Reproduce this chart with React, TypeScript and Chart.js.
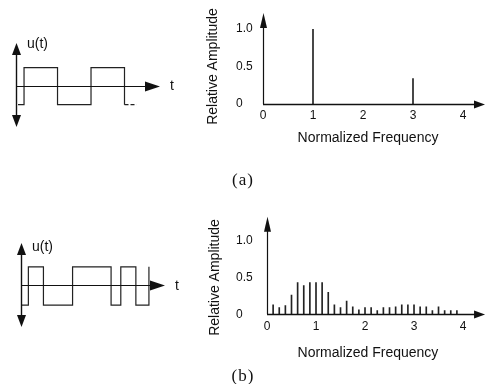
import React, { useEffect, useRef } from 'react';
import { Chart, registerables } from 'chart.js';

Chart.register(...registerables);

const FONT = '"Liberation Sans", Arial, Helvetica, sans-serif';
const SERIF = '"Liberation Serif", "Times New Roman", serif';
const INK = '#111111';

// ---- Panel (a): square wave (transition times, level after transition)
const waveATimes = [0.06, 0.24, 1.24, 2.24, 3.24, 3.6];
const waveALevels = [-1, 1, -1, 1, -1, -1];
// ---- Panel (b): pulse-width modulated wave
const waveBTimes = [0.02, 0.22, 0.67, 1.54, 2.69, 2.98, 3.43, 3.82];
const waveBLevels = [-1, 1, -1, 1, -1, 1, -1, 1];

// ---- Panel (a) spectrum
const specAFreqs = [1, 3];
const specAAmps = [1.0, 0.34];

// ---- Panel (b) spectrum (harmonics every 1/8)
const specBFreqs = [
  0.125, 0.25, 0.375, 0.5, 0.625, 0.75, 0.875, 1, 1.125, 1.25, 1.375, 1.5, 1.625, 1.75, 1.875, 2,
  2.125, 2.25, 2.375, 2.5, 2.625, 2.75, 2.875, 3, 3.125, 3.25, 3.375, 3.5, 3.625, 3.75, 3.875,
];
const specBAmps = [
  0.13, 0.09, 0.12, 0.26, 0.43, 0.39, 0.43, 0.43, 0.43, 0.3, 0.13, 0.09, 0.18, 0.1, 0.06, 0.09,
  0.09, 0.05, 0.09, 0.09, 0.1, 0.13, 0.13, 0.13, 0.1, 0.1, 0.05, 0.1, 0.05, 0.05, 0.05,
];

const freqTicks = [0, 1, 2, 3, 4];
const ampTicks = [0, 0.5, 1];
const ampTickLabels = ['0', '0.5', '1.0'];

function tri(ctx: CanvasRenderingContext2D, pts: number[][]) {
  ctx.beginPath();
  ctx.moveTo(pts[0][0], pts[0][1]);
  for (let i = 1; i < pts.length; i++) ctx.lineTo(pts[i][0], pts[i][1]);
  ctx.closePath();
  ctx.fill();
}

const crisp = (v: number) => Math.round(v - 0.5) + 0.5;

const arrowAxes = {
  id: 'arrowAxes',
  afterDatasetsDraw(chart: any, _a: any, o: any) {
    const { ctx } = chart;
    const xs = chart.scales.x;
    const ys = chart.scales.y;
    const oy = crisp(ys.getPixelForValue(0));
    const ax = crisp(xs.getPixelForValue(0));
    const xStart = xs.getPixelForValue(o.xFrom);
    const xEnd = xs.getPixelForValue(o.xTo);
    const yBot = ys.getPixelForValue(o.yFrom);
    const yTop = ys.getPixelForValue(o.yTo);
    const [xl, xw] = o.xHead;
    const [yl, yw] = o.yHead;
    ctx.save();
    ctx.strokeStyle = INK;
    ctx.fillStyle = INK;
    ctx.lineWidth = o.xLineWidth || 1;
    // x axis
    ctx.beginPath();
    ctx.moveTo(xStart, oy);
    ctx.lineTo(xEnd - xl + 1, oy);
    ctx.stroke();
    tri(ctx, [[xEnd, oy], [xEnd - xl, oy - xw], [xEnd - xl, oy + xw]]);
    // y axis
    ctx.lineWidth = o.yLineWidth || 1;
    ctx.beginPath();
    ctx.moveTo(ax, o.arrowDown ? yBot - yl + 1 : yBot);
    ctx.lineTo(ax, yTop + yl - 1);
    ctx.stroke();
    tri(ctx, [[ax, yTop], [ax - yw, yTop + yl], [ax + yw, yTop + yl]]);
    if (o.arrowDown) tri(ctx, [[ax, yBot], [ax - yw, yBot - yl], [ax + yw, yBot - yl]]);
    ctx.restore();
  },
  afterDraw(chart: any, _a: any, o: any) {
    const { ctx, chartArea } = chart;
    const xs = chart.scales.x;
    const ys = chart.scales.y;
    ctx.save();
    ctx.fillStyle = INK;
    ctx.font = `14px ${FONT}`;
    if (o.yTitle) {
      ctx.translate(chartArea.left + o.yTitleDx, (chartArea.top + chartArea.bottom) / 2);
      ctx.rotate(-Math.PI / 2);
      ctx.textAlign = 'center';
      ctx.textBaseline = 'middle';
      ctx.fillText(o.yTitle, 0, 0);
      ctx.setTransform(1, 0, 0, 1, 0, 0);
    }
    if (o.uLabel) {
      ctx.textAlign = 'left';
      ctx.textBaseline = 'middle';
      ctx.fillText(o.uLabel, xs.getPixelForValue(0) + 11, ys.getPixelForValue(o.yTo) + o.uDy);
    }
    if (o.tLabel) {
      ctx.textAlign = 'center';
      ctx.textBaseline = 'middle';
      ctx.fillText(o.tLabel, xs.getPixelForValue(o.xTo) + 12, ys.getPixelForValue(0));
    }
    ctx.restore();
  },
};

function waveConfig(times: number[], levels: number[], p: any) {
  const n = times.length;
  return {
    type: 'line',
    data: {
      datasets: [
        {
          data: times.map((t, i) => ({ x: t, y: levels[i] })),
          stepped: 'before',
          borderColor: '#222222',
          borderWidth: 1.2,
          pointRadius: 0,
          fill: false,
          segment: {
            borderDash: (c: any) => (p.dashLast && c.p1DataIndex === n - 1 ? [4, 2] : undefined),
          },
        },
      ],
    },
    options: {
      animation: false,
      responsive: false,
      events: [],
      layout: { padding: p.pad },
      plugins: {
        legend: { display: false },
        tooltip: { enabled: false },
        arrowAxes: {
          xFrom: 0,
          xTo: p.xMax,
          yFrom: p.yMin,
          yTo: p.yMax,
          arrowDown: true,
          xHead: [15, 5],
          yHead: [12, 4.5],
          xLineWidth: 1,
          yLineWidth: 1.4,
          uLabel: 'u(t)',
          uDy: p.uDy,
          tLabel: 't',
        },
      },
      scales: {
        x: { type: 'linear', display: false, min: 0, max: p.xMax },
        y: { type: 'linear', display: false, min: p.yMin, max: p.yMax },
      },
    },
    plugins: [arrowAxes],
  };
}

function spectrumConfig(freqs: number[], amps: number[], p: any) {
  return {
    type: 'bar',
    data: {
      datasets: [
        {
          data: freqs.map((f, i) => ({ x: f, y: amps[i] })),
          backgroundColor: '#222222',
          borderWidth: 0,
          barThickness: 1,
          grouped: false,
        },
      ],
    },
    options: {
      animation: false,
      responsive: false,
      events: [],
      layout: { padding: p.pad },
      plugins: {
        legend: { display: false },
        tooltip: { enabled: false },
        arrowAxes: {
          xFrom: 0,
          xTo: p.xTip,
          yFrom: 0,
          yTo: p.yTip,
          xHead: [11, 4],
          yHead: [15, 3.5],
          xLineWidth: 1.3,
          yLineWidth: 1.2,
          yTitle: 'Relative Amplitude',
          yTitleDx: p.yTitleDx,
        },
      },
      scales: {
        x: {
          type: 'linear',
          offset: false,
          min: 0,
          max: p.xMax,
          grid: { display: false, drawTicks: false },
          border: { display: false },
          afterBuildTicks: (s: any) => {
            s.ticks = freqTicks.map((v) => ({ value: v }));
          },
          ticks: {
            padding: p.tickPad,
            color: INK,
            font: { family: FONT, size: 12 },
            maxRotation: 0,
            autoSkip: false,
            callback: (_v: any, i: number) => String(freqTicks[i]),
          },
          title: {
            display: true,
            text: 'Normalized Frequency',
            color: INK,
            font: { family: FONT, size: 14, lineHeight: 1.2 },
            padding: 0,
          },
          afterFit: (s: any) => {
            s.height = p.xAxisHeight;
          },
        },
        y: {
          type: 'linear',
          min: 0,
          max: 1,
          grid: { display: false, drawTicks: false },
          border: { display: false },
          afterBuildTicks: (s: any) => {
            s.ticks = ampTicks.map((v) => ({ value: v }));
          },
          ticks: {
            crossAlign: 'far',
            padding: 0,
            color: INK,
            font: { family: FONT, size: 12 },
            callback: (_v: any, i: number) => ampTickLabels[i],
          },
          afterFit: (s: any) => {
            s.width = p.yAxisWidth;
          },
        },
      },
    },
    plugins: [arrowAxes],
  };
}

function ChartBox({ left, top, width, height, make }: any) {
  const ref = useRef<HTMLCanvasElement>(null);
  useEffect(() => {
    const chart = new Chart(ref.current as HTMLCanvasElement, make());
    return () => chart.destroy();
  }, []);
  return (
    <div style={{ position: 'absolute', left, top, width, height }}>
      <canvas ref={ref} width={width} height={height} style={{ width, height, display: 'block' }} />
    </div>
  );
}

const captionStyle: React.CSSProperties = {
  position: 'absolute',
  left: 203,
  width: 80,
  textAlign: 'center',
  fontFamily: SERIF,
  fontSize: 17,
  lineHeight: '18px',
  letterSpacing: '1px',
  color: INK,
};

export default function App() {
  return (
    <div
      style={{
        position: 'absolute',
        left: 0,
        top: 0,
        width: 486,
        height: 384,
        background: '#ffffff',
        overflow: 'hidden',
      }}
    >
      <ChartBox
        left={0}
        top={0}
        width={195}
        height={165}
        make={() =>
          waveConfig(waveATimes, waveALevels, {
            pad: { left: 16, right: 35, top: 43, bottom: 38 },
            xMax: 4.3,
            yMin: -2.2,
            yMax: 2.32,
            uDy: 1,
            dashLast: true,
          })
        }
      />
      <ChartBox
        left={200}
        top={0}
        width={286}
        height={165}
        make={() =>
          spectrumConfig(specAFreqs, specAAmps, {
            pad: { left: 36, right: 13, top: 29, bottom: 18.6 },
            yAxisWidth: 27,
            xAxisHeight: 42.4,
            xMax: 4.2,
            xTip: 4.44,
            yTip: 1.213,
            tickPad: 4,
            yTitleDx: -50,
          })
        }
      />
      <ChartBox
        left={0}
        top={170}
        width={195}
        height={214}
        make={() =>
          waveConfig(waveBTimes, waveBLevels, {
            pad: { left: 21, right: 30, top: 73, bottom: 57 },
            xMax: 4.3,
            yMin: -2.15,
            yMax: 2.25,
            uDy: 4,
            dashLast: false,
          })
        }
      />
      <ChartBox
        left={200}
        top={170}
        width={286}
        height={214}
        make={() =>
          spectrumConfig(specBFreqs, specBAmps, {
            pad: { left: 36, right: 17.1, top: 70.7, bottom: 22.9 },
            yAxisWidth: 31,
            xAxisHeight: 46.8,
            xMax: 4.12,
            xTip: 4.45,
            yTip: 1.326,
            tickPad: 5,
            yTitleDx: -52,
          })
        }
      />
      <div style={{ ...captionStyle, top: 171 }}>(a)</div>
      <div style={{ ...captionStyle, top: 367 }}>(b)</div>
    </div>
  );
}
